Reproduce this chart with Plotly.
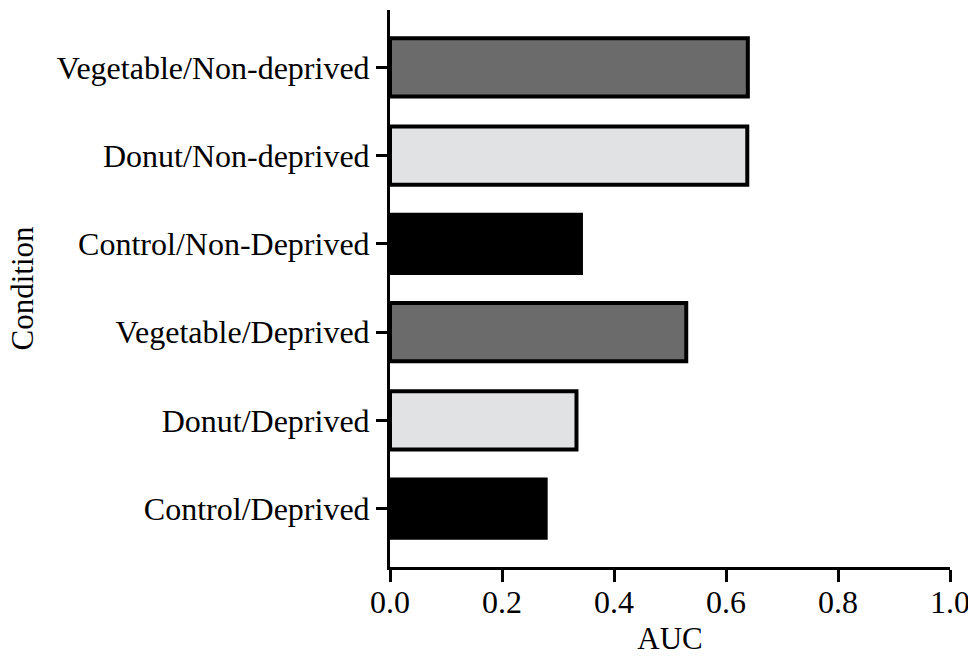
import plotly.graph_objects as go

categories = ["Control/Deprived", "Donut/Deprived", "Vegetable/Deprived",
              "Control/Non-Deprived", "Donut/Non-deprived", "Vegetable/Non-deprived"]
auc_values = [0.278, 0.333, 0.529, 0.341, 0.638, 0.639]
bar_colors = ["#000000", "#e1e2e3", "#6b6b6b", "#000000", "#e1e2e3", "#6b6b6b"]
x_ticks = [0.0, 0.2, 0.4, 0.6, 0.8, 1.0]
x_tick_labels = ["0.0", "0.2", "0.4", "0.6", "0.8", "1.0"]

font_family = "Liberation Serif, Times New Roman, serif"

fig = go.Figure(go.Bar(
    y=categories,
    x=auc_values,
    orientation="h",
    width=0.66,
    marker=dict(color=bar_colors, line=dict(color="#000000", width=4)),
))

fig.update_layout(
    width=968, height=656,
    margin=dict(l=390, r=18, t=10, b=89),
    paper_bgcolor="white", plot_bgcolor="white",
    font=dict(family=font_family, size=32, color="#000000"),
    showlegend=False,
)

fig.update_xaxes(
    range=[0, 1.0],
    tickvals=x_ticks, ticktext=x_tick_labels,
    showline=True, linecolor="#000000", linewidth=3,
    ticks="outside", ticklen=12, tickwidth=3, tickcolor="#000000",
    showgrid=False, zeroline=False, automargin=False,
    ticklabeloverflow="allow", ticklabelstandoff=-7,
    title=dict(text="AUC", font=dict(size=31), standoff=8),
    tickfont=dict(size=32),
)

fig.update_yaxes(
    categoryorder="array", categoryarray=categories,
    range=[-0.66, 5.65],
    showline=True, linecolor="#000000", linewidth=3,
    ticks="outside", ticklen=11, tickwidth=3, tickcolor="#000000",
    showgrid=False, zeroline=False, automargin=False,
    title=dict(text="Condition", font=dict(size=31), standoff=14),
    tickfont=dict(size=32),
)

fig.write_html("out.html", config={"displayModeBar": False},
               post_script="document.body.style.margin='0';document.body.style.overflow='hidden';")
